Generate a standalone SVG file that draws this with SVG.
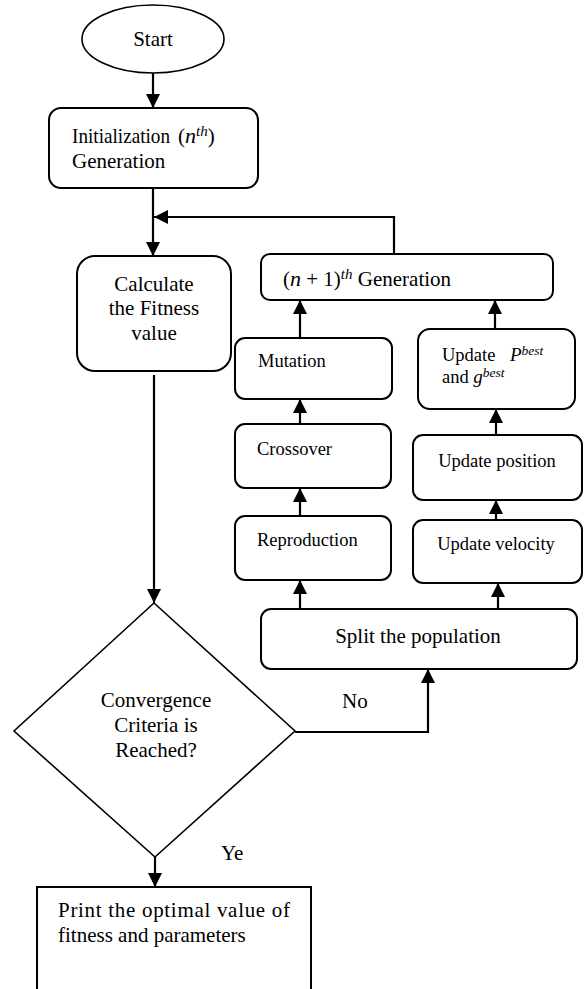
<svg xmlns="http://www.w3.org/2000/svg" width="585" height="989" viewBox="0 0 585 989">
<style>
.box{fill:#fff;stroke:#000;stroke-width:2}
.thin{fill:#fff;stroke:#000;stroke-width:1.6}
.ln{fill:none;stroke:#000;stroke-width:2.2}
text{font-family:"Liberation Serif","Times New Roman",serif;fill:#000}
.t21{font-size:21px}
.t18{font-size:18.5px}
.it{font-style:italic;font-size:22px}
.sup{font-style:italic;font-size:15px}
</style>
<defs>
<marker id="ah" markerUnits="userSpaceOnUse" markerWidth="14" markerHeight="14" viewBox="0 0 14 14" refX="14" refY="7" orient="auto">
<path d="M0,0 L14,7 L0,14 Z" fill="#000"/>
</marker>
</defs>
<g id="connectors">
<path class="ln" d="M153,73 V108" marker-end="url(#ah)"/>
<path class="ln" d="M153,188 V256" marker-end="url(#ah)"/>
<path class="ln" d="M394,254 V217 H154" marker-end="url(#ah)"/>
<path class="ln" d="M154,375 V603" marker-end="url(#ah)"/>
<path class="ln" d="M155,857 V887" marker-end="url(#ah)"/>
<path class="ln" d="M295,732 H428 V669" marker-end="url(#ah)"/>
<path class="ln" d="M300,338 V300" marker-end="url(#ah)"/>
<path class="ln" d="M300,424 V399" marker-end="url(#ah)"/>
<path class="ln" d="M300,516 V488" marker-end="url(#ah)"/>
<path class="ln" d="M300,609 V580" marker-end="url(#ah)"/>
<path class="ln" d="M498,609 V583" marker-end="url(#ah)"/>
<path class="ln" d="M496,520 V500" marker-end="url(#ah)"/>
<path class="ln" d="M496,435 V409" marker-end="url(#ah)"/>
<path class="ln" d="M495,329 V300" marker-end="url(#ah)"/>
</g>
<g id="start">
<ellipse class="thin" cx="153" cy="39" rx="71" ry="34"/>
<text class="t21" x="153" y="46" text-anchor="middle">Start</text>
</g>
<g id="init">
<rect class="box" x="49" y="108" width="209" height="80" rx="12"/>
<text class="t21" x="72" y="143" textLength="98" lengthAdjust="spacingAndGlyphs">Initialization</text>
<text class="t21" x="178" y="143">(<tspan class="it">n</tspan><tspan class="sup" dy="-7">th</tspan><tspan dy="7">)</tspan></text>
<text class="t21" x="72" y="168">Generation</text>
</g>
<g id="calc">
<rect class="box" x="77" y="256" width="154" height="115" rx="18"/>
<text class="t21" x="154" y="291" text-anchor="middle">Calculate</text>
<text class="t21" x="154" y="315" text-anchor="middle">the Fitness</text>
<text class="t21" x="154" y="340" text-anchor="middle">value</text>
</g>
<g id="nextgen">
<rect class="box" x="261" y="254" width="292" height="46" rx="9"/>
<text class="t21" x="283" y="286">(<tspan class="it">n</tspan> + 1)<tspan class="sup" dy="-7">th</tspan><tspan dy="7"> Generation</tspan></text>
</g>
<g id="mutation">
<rect class="box" x="235" y="338" width="157" height="61" rx="10"/>
<text class="t18" x="258" y="367">Mutation</text>
</g>
<g id="crossover">
<rect class="box" x="235" y="424" width="156" height="64" rx="10"/>
<text class="t18" x="257" y="455">Crossover</text>
</g>
<g id="reproduction">
<rect class="box" x="235" y="516" width="156" height="64" rx="10"/>
<text class="t18" x="257" y="546">Reproduction</text>
</g>
<g id="pbest">
<rect class="box" x="418" y="329" width="157" height="80" rx="12"/>
<text class="t18" x="442" y="361">Update <tspan class="it" x="510" style="font-size:19px">P</tspan><tspan class="sup" dy="-6" style="font-size:13.5px">best</tspan></text>
<text class="t18" x="442" y="383">and <tspan class="it" style="font-size:19px">g</tspan><tspan class="sup" dy="-6" style="font-size:13.5px">best</tspan></text>
</g>
<g id="position">
<rect class="box" x="413" y="435" width="169" height="65" rx="10"/>
<text class="t18" x="497" y="467" text-anchor="middle">Update position</text>
</g>
<g id="velocity">
<rect class="box" x="413" y="520" width="169" height="63" rx="10"/>
<text class="t18" x="496" y="550" text-anchor="middle">Update velocity</text>
</g>
<g id="split">
<rect class="box" x="261" y="609" width="316" height="60" rx="10"/>
<text class="t21" x="418" y="643" text-anchor="middle">Split the population</text>
</g>
<g id="decision">
<polygon class="thin" points="154,603 295,731 155,857 14,731"/>
<text class="t21" x="156" y="707" text-anchor="middle">Convergence</text>
<text class="t21" x="156" y="732" text-anchor="middle">Criteria is</text>
<text class="t21" x="156" y="757" text-anchor="middle">Reached?</text>
</g>
<g id="labels">
<text class="t21" x="342" y="708">No</text>
<text class="t21" x="221" y="860">Ye</text>
</g>
<g id="print">
<path class="box" d="M37,995 V887 H311 V995" fill="none"/>
<text class="t21" x="58" y="917" textLength="232" lengthAdjust="spacing">Print the optimal value of</text>
<text class="t21" x="58" y="942">fitness and parameters</text>
</g>
</svg>
